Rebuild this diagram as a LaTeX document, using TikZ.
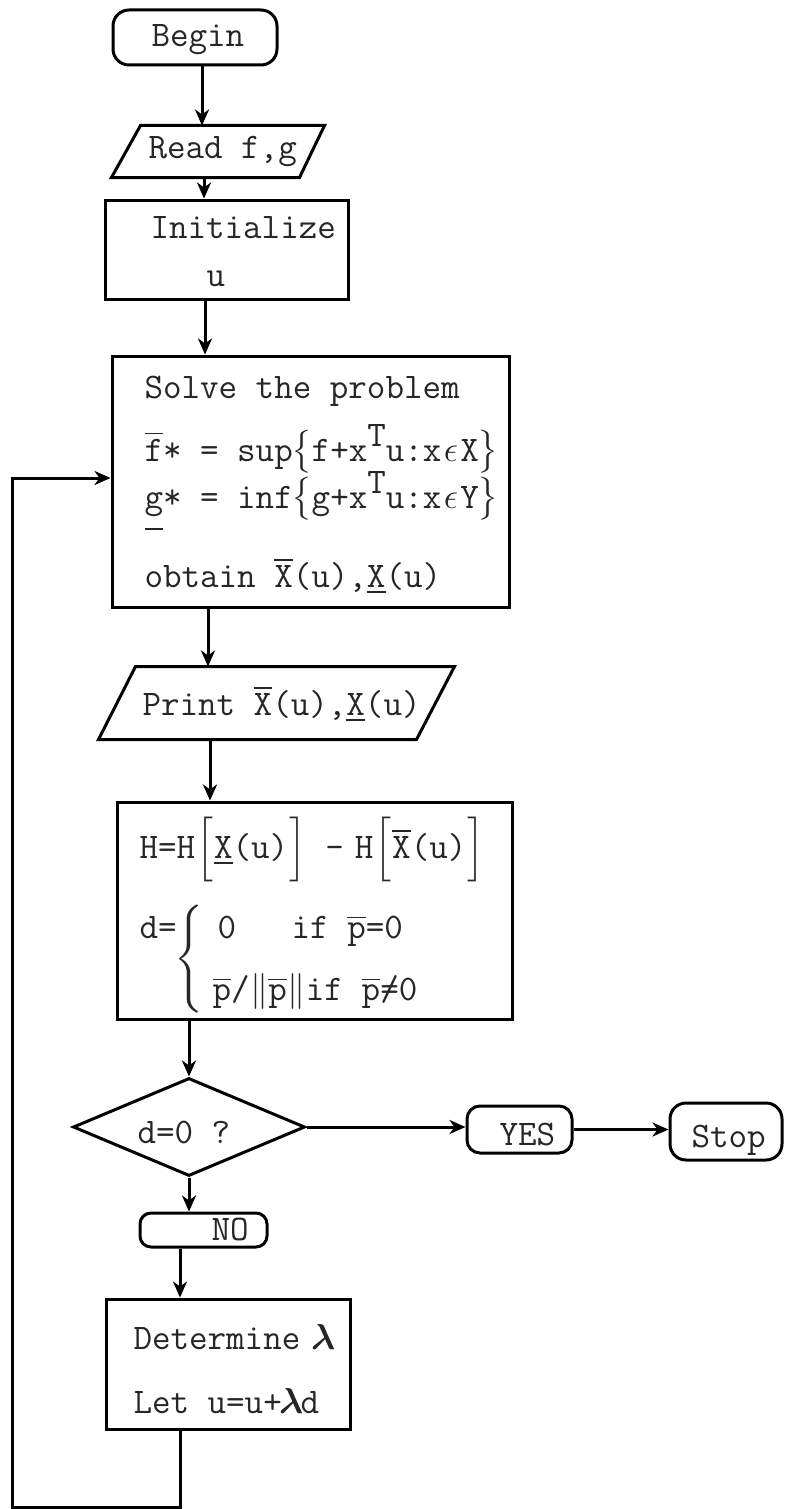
\documentclass[tikz,border=0pt]{standalone}
\usepackage{amsmath}
\usetikzlibrary{shapes.geometric,arrows.meta}
\newcommand\cb[1]{\makebox[0.525em]{#1}}
\newcommand\ovl[1]{$\overline{\mbox{#1}}$}
\newcommand\unl[1]{$\underline{\mbox{#1}}$}
\newcommand\supT{\raisebox{0.4em}{T}}
\newcommand\gund{\rlap{\rule[-0.62em]{0.5em}{0.7pt}}g}
\newcommand\neqtt{\makebox[0.525em]{=}\hspace{-0.525em}\makebox[0.525em]{/}}
\begin{document}
\begin{tikzpicture}[x=1pt,y=-1pt,line width=3pt,
  box/.style={draw,rectangle,inner sep=0pt,line width=3pt},
  term/.style={box,rounded corners=16pt},
  ghost/.style={rectangle,inner sep=0pt},
  arr/.style={-{Stealth[length=16pt,width=14pt,inset=5pt]}},
  txt/.style={anchor=base west,inner sep=0pt,scale=3,transform shape,text=black!85,font=\fontsize{12}{14}\selectfont\ttfamily}]
\useasboundingbox (0,0) rectangle (787,1509);

% Begin
\node[term,minimum width=164pt,minimum height=55pt] (Begin) at (195,37.5) {};
\node[txt] (tBegin) at (147,47) {Begin};

% Read f,g
\node[ghost,minimum width=210pt,minimum height=49pt] (Read) at (218,151.5) {};
\draw (Read.south west) -- ([xshift=29pt]Read.north west) -- (Read.north east) -- ([xshift=-25pt]Read.south east) -- cycle;
\node[txt] (tRead) at (144,158) {Read f,g};

% Initialize
\node[box,minimum width=243pt,minimum height=99pt] (Init) at (226.5,249.5) {};
\node[txt] (tInit1) at (146,238) {Initialize};
\node[txt] (tInit2) at (202,286) {u};

% Solve
\node[box,minimum width=397pt,minimum height=251pt] (Solve) at (310.5,481.5) {};
\node[txt] (tS1) at (140,398) {Solve the problem};
\node[txt] (tS2) at (140,461) {\ovl{f}* = sup\cb{$\big\{$}f+x\supT u:x\cb{$\epsilon$}X\cb{$\big\}$}};
\node[txt] (tS3) at (140,508) {\gund* = inf\cb{$\big\{$}g+x\supT u:x\cb{$\epsilon$}Y\cb{$\big\}$}};
\node[txt] (tS4) at (140,587) {obtain \ovl{X}(u),\unl{X}(u)};

% Print
\node[ghost,minimum width=353pt,minimum height=70pt] (Print) at (276.5,703) {};
\draw (Print.south west) -- ([xshift=37pt]Print.north west) -- (Print.north east) -- ([xshift=-38pt]Print.south east) -- cycle;
\node[txt] (tPrint) at (138,715) {Print \ovl{X}(u),\unl{X}(u)};

% H box
\node[box,minimum width=395pt,minimum height=217pt] (H) at (314.5,910.5) {};
\node[txt] (tH1) at (135,858) {H=H\cb{$\Big[$}\unl{X}(u)\cb{$\Big]$}\hspace{0.5em}\cb{-}\hspace{0.3em}H\cb{$\Big[$}\ovl{X}(u)\cb{$\Big]$}};
\node[txt] (tH2) at (135,938) {d=};
\node[inner sep=0pt,scale=3,transform shape,text=black!85,font=\fontsize{12}{14}\selectfont] (brace) at (189,959) {$\Bigg\{$};
\node[txt] (tH3) at (213,938) {0\ \ \ if \ovl{p}=0};
\node[txt] (tH4) at (208,1000) {\ovl{p}/\cb{$\|$}\ovl{p}\cb{$\|$}if \ovl{p}\neqtt 0};

% Decision
\node[diamond,draw,inner sep=0pt,minimum width=232pt,minimum height=98pt] (Dia) at (189,1127) {};
\node[txt] (tDia) at (133,1143) {d=0 ?};

% YES / Stop
\node[term,rounded corners=13pt,minimum width=105pt,minimum height=47pt] (Yes) at (519.5,1129.5) {};
\node[txt] (tYes) at (495,1145) {YES};
\node[term,minimum width=112pt,minimum height=57pt] (Stop) at (726,1131.5) {};
\node[txt] (tStop) at (687,1147) {Stop};

% NO
\node[term,rounded corners=11pt,minimum width=127pt,minimum height=34pt] (No) at (203.5,1230) {};
\node[txt] (tNo) at (207,1240) {NO};

% Determine
\node[box,minimum width=244pt,minimum height=130pt] (Det) at (228,1364) {};
\node[txt] (tD1) at (129,1349) {Determine\hspace{0.3em}{\boldmath$\lambda$}};
\node[txt] (tD2) at (129,1413) {Let u=u+\cb{\boldmath$\lambda$}d};

% connectors
\draw[arr] ([xshift=7pt]Begin.south) -- ([xshift=7pt]Begin.south |- Read.north);
\draw[arr] ([xshift=-14pt]Read.south) -- ([xshift=-14pt]Read.south |- Init.north);
\draw[arr] ([xshift=-21.5pt]Init.south) -- ([xshift=-21.5pt]Init.south |- Solve.north);
\draw[arr] ([xshift=-102.5pt]Solve.south) -- ([xshift=-102.5pt]Solve.south |- Print.north);
\draw[arr] ([xshift=-66.5pt]Print.south) -- ([xshift=-66.5pt]Print.south |- H.north);
\draw[arr] (Dia.north |- H.south) -- (Dia.north);
\draw[arr] (Dia.east) -- (Dia.east -| Yes.west);
\draw[arr] (Yes.east) -- (Yes.east -| Stop.west);
\draw[arr] (Dia.south) -- (Dia.south |- No.north);
\draw[arr] ([xshift=-23.5pt]No.south) -- ([xshift=-23.5pt]No.south |- Det.north);
\coordinate (LB) at (12,1507);
\draw[arr] ([xshift=-48pt]Det.south) |- (LB) |- ([yshift=3.5pt]Solve.west);
\end{tikzpicture}
\end{document}
